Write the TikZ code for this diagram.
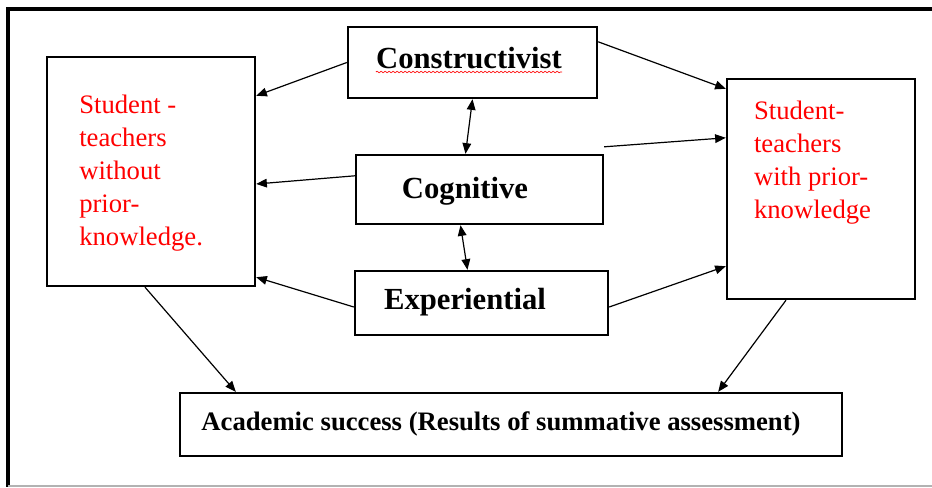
\documentclass[tikz,border=0pt]{standalone}
\usepackage{fontspec}
\setmainfont{Liberation Serif}
\usetikzlibrary{arrows.meta, positioning, calc, decorations.pathmorphing}

\begin{document}
\begin{tikzpicture}[
  x=0.75pt, y=-0.75pt,
  >={Triangle[length=8pt,width=6.5pt]},
  frame/.style={line width=3pt, black},
  box/.style={draw, line width=1.8pt, inner sep=0pt},
  cat/.style={font=\fontsize{23}{27}\selectfont\bfseries, inner sep=0pt, anchor=base},
  grp/.style={font=\fontsize{20}{24.75}\selectfont, text=red, align=left,
              inner sep=0pt, anchor=west},
  res/.style={font=\fontsize{20}{24}\selectfont\bfseries, inner sep=0pt, anchor=base},
  arr/.style={->, line width=0.9pt},
  darr/.style={<->, line width=0.9pt}
]
\useasboundingbox (0,0) rectangle (932,487);

\draw[frame] (932,9) -- (8,9) -- (8,487);
\draw[black!30, line width=0.8pt] (8,486) -- (932,486);

\node[box, minimum width=156pt, minimum height=171.75pt] (nopk) at (151,171.5) {};
\node[grp] (nopktxt) at (79,173)
  {Student -\\teachers\\without\\prior-\\knowledge.};

\node[box, minimum width=141pt, minimum height=165pt] (pk) at (821,189) {};
\node[grp] (pktxt) at ($(pk.north west)+(28,85)$)
  {Student-\\teachers\\with prior-\\knowledge};

\node[box, minimum width=186.75pt, minimum height=53.25pt] (con) at (472.5,62.5) {};
\node[cat] (contxt) at (469,68) {Constructivist};
\draw[red, line width=0.5pt, decorate, decoration={snake, amplitude=0.6pt, segment length=3pt}]
  ($(contxt.base west)+(0,4)$) -- ($(contxt.base east)+(0,4)$);

\node[box, minimum width=185.25pt, minimum height=51.75pt] (cog) at (479.5,189.5) {};
\node[cat] (cogtxt) at (465,198) {Cognitive};

\node[box, minimum width=189.75pt, minimum height=48pt] (exp) at (481.5,303) {};
\node[cat] (exptxt) at (465,309) {Experiential};

\node[box, minimum width=496.5pt, minimum height=47.25pt] (acad) at (511,424.5) {};
\node[res] (acadtxt) at (501,430)
  {Academic success (Results of summative assessment)};

\draw[arr] (con.west) -- ($(nopk.north east)+(0,40)$);
\draw[arr] ($(con.north east)+(0,16)$) -- ($(pk.north west)+(0,11)$);
\draw[darr] (con.south) -- ($(cog.north)+(-14,0)$);
\draw[arr] ($(cog.north west)+(0,22)$) -- ($(nopk.east)+(0,12.5)$);
\draw[arr] ($(cog.north east)+(0,-7)$) -- ($(pk.north west)+(0,60)$);
\draw[darr] ($(cog.south)+(-19,0)$) -- ($(exp.north)+(-14,0)$);
\draw[arr] ($(exp.west)+(0,4)$) -- ($(nopk.south east)+(0,-10)$);
\draw[arr] ($(exp.east)+(0,4)$) -- ($(pk.south west)+(0,-34)$);
\draw[arr] ($(nopk.south)+(-6,0)$) -- ($(acad.north west)+(57,0)$);
\draw[arr] ($(pk.south)+(-35,0)$) -- ($(acad.north east)+(-125,0)$);

\end{tikzpicture}
\end{document}
